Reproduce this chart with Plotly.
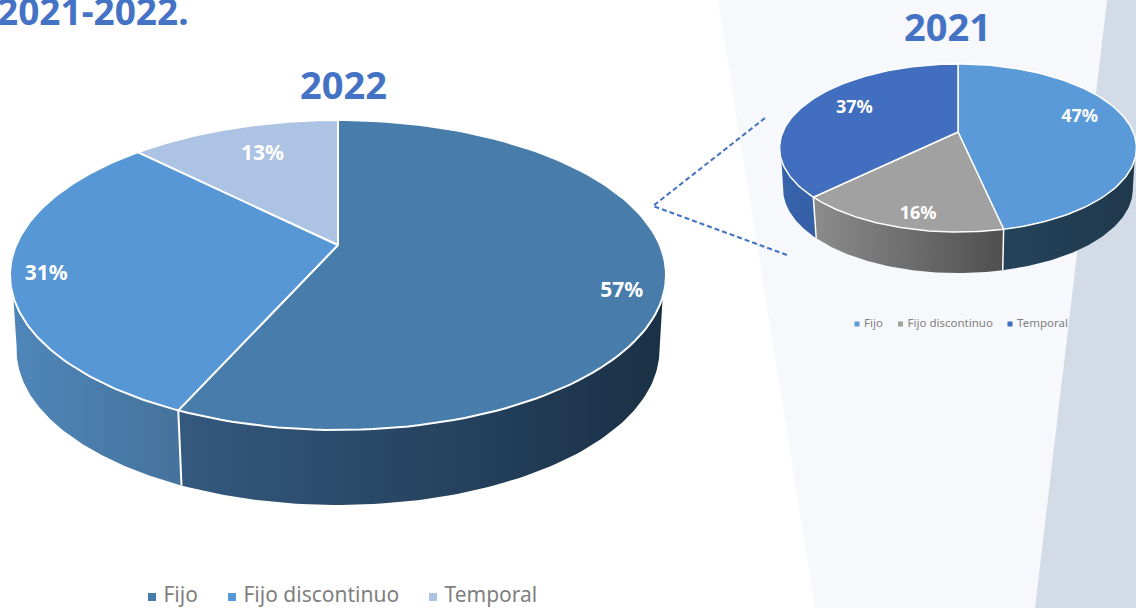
import numpy as np
import plotly.graph_objects as go

categories = ['Fijo', 'Fijo discontinuo', 'Temporal']

values_2022 = [56.7, 30.8, 12.5]
labels_2022 = ['57%', '31%', '13%']
colors_2022 = ['#477cab', '#5797d5', '#adc3e3']
walls_2022 = [('#34597e', '#1a3045'), ('#4f86b9', '#44739c'), ('#adc3e3', '#adc3e3')]

values_2021 = [46.6, 16.1, 37.3]
labels_2021 = ['47%', '16%', '37%']
colors_2021 = ['#5b9ad8', '#a1a1a1', '#416ebe']
walls_2021 = [('#24435a', '#20384c'), ('#8c8c8c', '#4f4f4f'), ('#3763ab', '#3560a8')]

BLUE = '#4472c4'
GREY = '#7f7f7f'


# the disc is a circle seen in perspective, so the apex sits above the ellipse centre
def rim(theta, pie, r=1.0):
    u = r * np.sin(theta)
    v = -r * np.cos(theta)
    d = 1 - pie['k'] * v
    return pie['cx'] + pie['b'] * u / d, pie['cy'] + pie['a'] * v / d


def add_pie(fig, pie, values, labels, colors, walls, label_r, label_shift):
    total = sum(values)
    edges = np.cumsum([0] + values) / total * 2 * np.pi
    # the wall leaves the top rim a bit lower than its own outline starts
    top_lo, top_hi = np.radians(109), np.radians(251)
    bot_lo, bot_hi = np.radians(100), np.radians(260)

    # side wall
    for i in range(len(values)):
        t0, t1 = max(edges[i], top_lo), min(edges[i + 1], top_hi)
        if t1 <= t0:
            continue
        x, y = rim(np.linspace(t0, t1, 90), pie)
        xb, yb = rim(np.linspace(max(edges[i], bot_lo), min(edges[i + 1], bot_hi), 90), pie)
        xb = pie['cx'] + (xb - pie['cx']) * pie['shrink']
        yb = yb + pie['depth']
        xs = np.r_[x, xb[::-1], x[0]]
        ys = np.r_[y, yb[::-1], y[0]]
        fig.add_trace(go.Scatter(
            x=xs, y=ys, mode='lines', line=dict(width=0), fill='toself',
            fillgradient=dict(type='horizontal',
                              colorscale=[[0, walls[i][0]], [1, walls[i][1]]],
                              start=xs.min(), stop=xs.max()),
            hoverinfo='skip', showlegend=False))

    # white seams on the wall
    for e in edges[1:-1]:
        if top_lo < e < top_hi:
            x, y = rim(e, pie)
            xb = pie['cx'] + (x - pie['cx']) * pie['shrink']
            fig.add_trace(go.Scatter(
                x=[x, xb], y=[y, y + pie['depth']], mode='lines',
                line=dict(color='white', width=pie['lw']),
                hoverinfo='skip', showlegend=False))

    # top face
    for i in range(len(values)):
        t = np.linspace(edges[i], edges[i + 1], 120)
        x, y = rim(t, pie)
        fig.add_trace(go.Scatter(
            x=np.r_[pie['cx'], x, pie['cx']], y=np.r_[pie['cy'], y, pie['cy']],
            mode='lines', line=dict(color='white', width=pie['lw']),
            fill='toself', fillcolor=colors[i],
            name=categories[i], hoverinfo='skip', showlegend=False))

    # percentage labels
    mids = (edges[:-1] + edges[1:]) / 2
    lx, ly = [], []
    for m, r, s in zip(mids, label_r, label_shift):
        a, b = rim(m, pie, r)
        lx.append(a + s[0])
        ly.append(b + s[1])
    fig.add_trace(go.Scatter(
        x=lx, y=ly, mode='text', text=labels,
        textfont=dict(family='Noto Sans', size=pie['fs'], color='white', weight='bold'),
        hoverinfo='skip', showlegend=False))


def add_legend(fig, xs, y, colors, size, msize, pad='\u00a0'):
    for i, c in enumerate(colors):
        fig.add_trace(go.Scatter(
            x=[xs[i]], y=[y], mode='markers+text', text=[pad + categories[i]],
            textposition='middle right',
            marker=dict(symbol='square', size=msize, color=c),
            textfont=dict(family='Noto Sans', size=size, color=GREY),
            hoverinfo='skip', showlegend=False))


fig = go.Figure()

pie_2022 = dict(cx=338, cy=245, a=149.2, b=321.8, k=0.1935, depth=75, shrink=0.98, lw=2, fs=21)
pie_2021 = dict(cx=958, cy=132, a=81, b=175.2, k=0.1905, depth=41, shrink=0.98, lw=1.5, fs=18)

add_pie(fig, pie_2022, values_2022, labels_2022, colors_2022, walls_2022,
        [0.87, 0.89, 0.72], [(0, 19), (-1, 5), (3, -2)])
add_pie(fig, pie_2021, values_2021, labels_2021, colors_2021, walls_2021,
        [0.75, 0.72, 0.75], [(-7, -8), (2, 18), (11, -1)])

add_legend(fig, [152, 232, 433], 597, colors_2022, 21, 8)
add_legend(fig, [857, 900.5, 1010], 324, colors_2021, 11.5, 5)

fig.update_layout(
    width=1136, height=608,
    margin=dict(l=0, r=0, t=0, b=0),
    paper_bgcolor='white', plot_bgcolor='white',
    showlegend=False,
    xaxis=dict(range=[0, 1136], visible=False, fixedrange=True),
    yaxis=dict(range=[608, 0], visible=False, fixedrange=True),
    shapes=[
        dict(type='path', path='M 718 0 L 1107 0 L 1035 608 L 815 608 Z',
             fillcolor='#f6f8fc', line_width=0, layer='below'),
        dict(type='path', path='M 1107 0 L 1136 0 L 1136 608 L 1035 608 Z',
             fillcolor='#d3dbe7', line_width=0, layer='below'),
        dict(type='path', path='M 765 118 L 653 206 L 787 255',
             line=dict(color=BLUE, width=2, dash='5px,3px'), layer='below'),
    ],
    annotations=[
        # runs slightly off the left edge, as in the source slide
        dict(x=0, xshift=-5, y=10, text='<b>2021-2022.</b>', showarrow=False,
             xanchor='left', yanchor='middle',
             font=dict(family='Noto Sans', size=37, color=BLUE)),
        dict(x=343, y=84, text='<b>2022</b>', showarrow=False,
             font=dict(family='Noto Sans', size=38, color=BLUE)),
        dict(x=947, y=26, text='<b>2021</b>', showarrow=False,
             font=dict(family='Noto Sans', size=38, color=BLUE)),
    ],
)

# the page's default body margin would push the chart 8px in
fig.write_html("out.html", config=dict(displayModeBar=False),
               post_script="document.body.style.margin='0';document.body.style.overflow='hidden';")
